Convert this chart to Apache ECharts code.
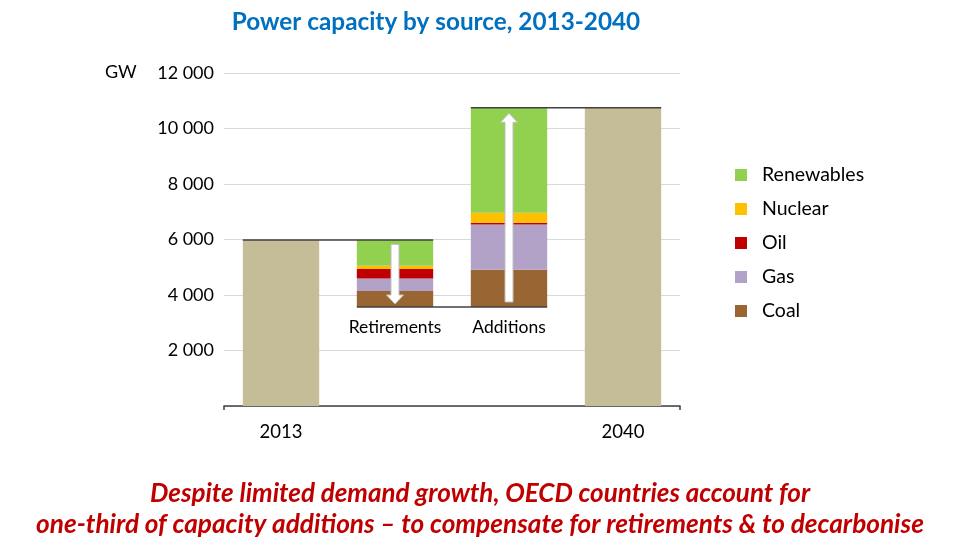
<!DOCTYPE html>
<html>
<head>
<meta charset="utf-8">
<script src="https://cdn.jsdelivr.net/npm/echarts@6/dist/echarts.min.js"></script>
<style>html,body{margin:0;padding:0;background:#fff;}#c{width:959px;height:552px;}</style>
</head>
<body>
<div id="c"></div>
<script>
const categories = ['2013', 'Retirements', 'Additions', '2040'];
const axisLabels = ['2013', '', '', '2040'];
const baseValues = ['-', 3564, 3564, '-'];
const totalValues = [5980, '-', '-', 10746];
const coal = ['-', 577, 1344, '-'];
const gas = ['-', 458, 1636, '-'];
const oil = ['-', 335, 58, '-'];
const nuclear = ['-', 120, 360, '-'];
const renewables = ['-', 926, 3784, '-'];
const connectors = [[0, 1, 5980], [1, 2, 3564], [2, 3, 10746]];
const arrows = [[1, 5827, 3676], [2, 3748, 10548]];
const legendNames = ['Renewables', 'Nuclear', 'Oil', 'Gas', 'Coal'];

const FONT = 'Lato, "Open Sans", sans-serif';
const BARW = 0.67;

const chart = echarts.init(document.getElementById('c'), null, {renderer: 'canvas'});

function stackSeries(name, data, color) {
  return {
    name: name, type: 'bar', stack: 'a', data: data, barWidth: '67%',
    itemStyle: {color: color}, emphasis: {disabled: true}, z: 2
  };
}

const option = {
  animation: false,
  backgroundColor: '#ffffff',
  textStyle: {fontFamily: FONT},
  grid: {left: 224, right: 279, top: 73, bottom: 146},
  legend: {
    data: legendNames,
    orient: 'vertical',
    left: 730, top: 160,
    itemWidth: 12, itemHeight: 12, itemGap: 14,
    icon: 'rect',
    textStyle: {fontFamily: FONT, fontSize: 19.5, lineHeight: 20, color: '#000', padding: [0, 0, 0, 10]},
    selectedMode: false
  },
  xAxis: {
    type: 'category',
    data: categories,
    axisLine: {lineStyle: {color: '#404040', width: 1.5}},
    axisTick: {
      show: true, length: 4, lineStyle: {color: '#404040', width: 1.5},
      interval: function (i) { return i === 0 || i === 4; }
    },
    axisLabel: {
      fontFamily: FONT, fontSize: 18.5, color: '#000', margin: 17,
      formatter: function (v, i) { return axisLabels[i]; }
    }
  },
  yAxis: {
    type: 'value', min: 0, max: 12000, interval: 2000,
    axisLine: {show: false}, axisTick: {show: false},
    splitLine: {lineStyle: {color: '#D9D9D9', width: 1}},
    axisLabel: {
      fontFamily: FONT, fontSize: 18, color: '#000', margin: 10,
      formatter: function (v) {
        if (v === 0) return '';
        return String(v).replace(/\B(?=(\d{3})+(?!\d))/g, ' ');
      }
    }
  },
  graphic: [
    {type: 'text', left: 105, top: 63, style: {text: 'GW', font: '18px ' + FONT, fill: '#000'}},
    {type: 'text', x: 480, y: 494, style: {text: 'Despite limited demand growth, OECD countries account for', font: 'italic bold 26px ' + FONT, fill: '#C00000', align: 'center', verticalAlign: 'middle'}},
    {type: 'text', x: 480, y: 525, style: {text: 'one-third of capacity additions \u2013 to compensate for retirements & to decarbonise', font: 'italic bold 26.2px ' + FONT, fill: '#C00000', align: 'center', verticalAlign: 'middle'}}
  ],
  title: {
    text: 'Power capacity by source, 2013-2040',
    left: 431, top: 5, textAlign: 'center',
    textStyle: {fontFamily: FONT, fontSize: 24.3, fontWeight: 'bold', color: '#0070C0'}
  },
  series: [
    {
      name: 'base', type: 'bar', stack: 'a', data: baseValues, barWidth: '67%',
      itemStyle: {color: 'rgba(0,0,0,0)'}, emphasis: {disabled: true}, silent: true,
      label: {
        show: true, position: 'insideTop', distance: 11,
        fontFamily: FONT, fontSize: 17.5, color: '#000',
        formatter: function (p) { return categories[p.dataIndex]; }
      }
    },
    {
      name: 'Total', type: 'bar', stack: 'a', data: totalValues, barWidth: '67%',
      itemStyle: {color: '#C4BD97'}, emphasis: {disabled: true}
    },
    stackSeries('Coal', coal, '#996633'),
    stackSeries('Gas', gas, '#B3A2C7'),
    stackSeries('Oil', oil, '#C00000'),
    stackSeries('Nuclear', nuclear, '#FFC000'),
    stackSeries('Renewables', renewables, '#92D050'),
    {
      name: 'connectors', type: 'custom', z: 5, silent: true,
      data: connectors,
      encode: {x: [0, 1], y: 2},
      renderItem: function (params, api) {
        const p1 = api.coord([api.value(0), api.value(2)]);
        const p2 = api.coord([api.value(1), api.value(2)]);
        const half = api.size([1, 0])[0] * BARW / 2;
        return {
          type: 'line',
          shape: {x1: p1[0] - half, y1: p1[1], x2: p2[0] + half, y2: p2[1]},
          style: {stroke: '#404040', lineWidth: 1.5}
        };
      }
    },
    {
      name: 'arrows', type: 'custom', z: 6, silent: true,
      data: arrows,
      encode: {x: 0, y: [1, 2]},
      renderItem: function (params, api) {
        const a = api.coord([api.value(0), api.value(1)]);
        const b = api.coord([api.value(0), api.value(2)]);
        const cx = a[0];
        const dir = b[1] > a[1] ? 1 : -1;
        const sw = 4, hw = 8.5, hl = 9;
        const neck = b[1] - dir * hl;
        return {
          type: 'polygon',
          shape: {points: [
            [cx - sw, a[1]], [cx + sw, a[1]], [cx + sw, neck], [cx + hw, neck],
            [cx, b[1]], [cx - hw, neck], [cx - sw, neck]
          ]},
          style: {fill: '#ffffff', stroke: '#BFBFBF', lineWidth: 1}
        };
      }
    }
  ]
};
chart.setOption(option);
</script>
</body>
</html>
